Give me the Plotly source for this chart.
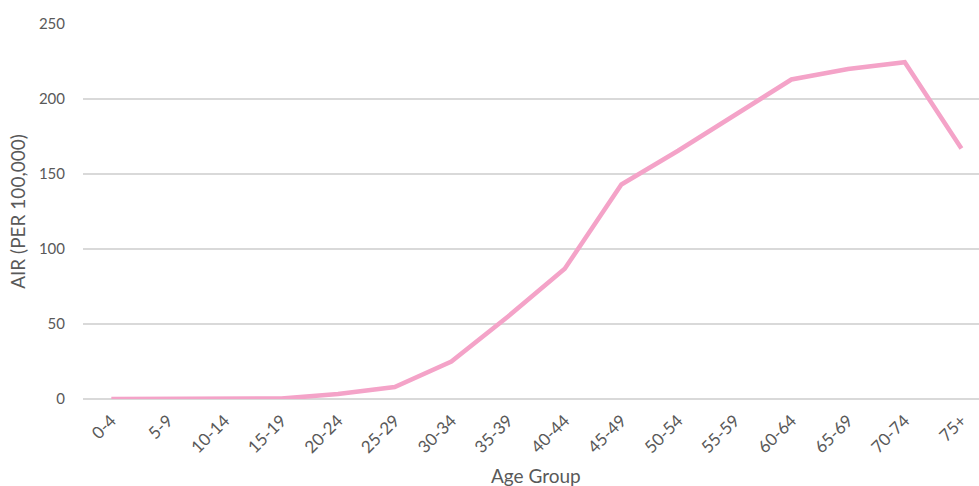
import plotly.graph_objects as go

age_groups = ["0-4", "5-9", "10-14", "15-19", "20-24", "25-29", "30-34", "35-39",
              "40-44", "45-49", "50-54", "55-59", "60-64", "65-69", "70-74", "75+"]
air_values = [0, 0, 0, 0.3, 3.3, 8.0, 25.0, 55.0, 86.8, 143.0, 165.5, 189.5, 213.0, 220.0, 224.5, 167.0]
y_ticks = [0, 50, 100, 150, 200, 250]

font_family = "Lato, 'Open Sans', sans-serif"
grey = "#595959"

fig = go.Figure()
fig.add_trace(go.Scatter(
    x=list(range(len(age_groups))), y=air_values, mode="lines",
    line=dict(color="#F4A3C8", width=4.5), showlegend=False,
))

fig.update_layout(
    width=979, height=486,
    margin=dict(l=83, r=0, t=24, b=86.5),
    paper_bgcolor="white", plot_bgcolor="white",
    font=dict(family=font_family, color=grey, size=15),
    xaxis=dict(
        range=[-0.5, 15.31],
        tickmode="array", tickvals=list(range(len(age_groups))), ticktext=age_groups,
        tickangle=-45, showgrid=False, zeroline=False, showline=False,
        ticks="outside", ticklen=4, tickcolor="rgba(0,0,0,0)",
        tickfont=dict(size=17, color=grey),
    ),
    yaxis=dict(
        range=[0, 250], tickvals=y_ticks,
        showgrid=True, gridcolor="#D9D9D9", gridwidth=1.5,
        zeroline=True, zerolinecolor="#D9D9D9", zerolinewidth=1.5,
        showline=False,
        ticks="outside", ticklen=14, tickcolor="rgba(0,0,0,0)",
        tickfont=dict(size=15, color=grey),
        title=dict(text="AIR (PER 100,000)", font=dict(size=19, color=grey), standoff=8),
    ),
    annotations=[dict(
        text="Age Group", xref="paper", yref="paper",
        x=(536 - 83) / (979 - 83), y=-0.204, xanchor="center", yanchor="middle",
        showarrow=False, font=dict(size=19, color=grey),
    )],
)

fig.write_html("out.html")
